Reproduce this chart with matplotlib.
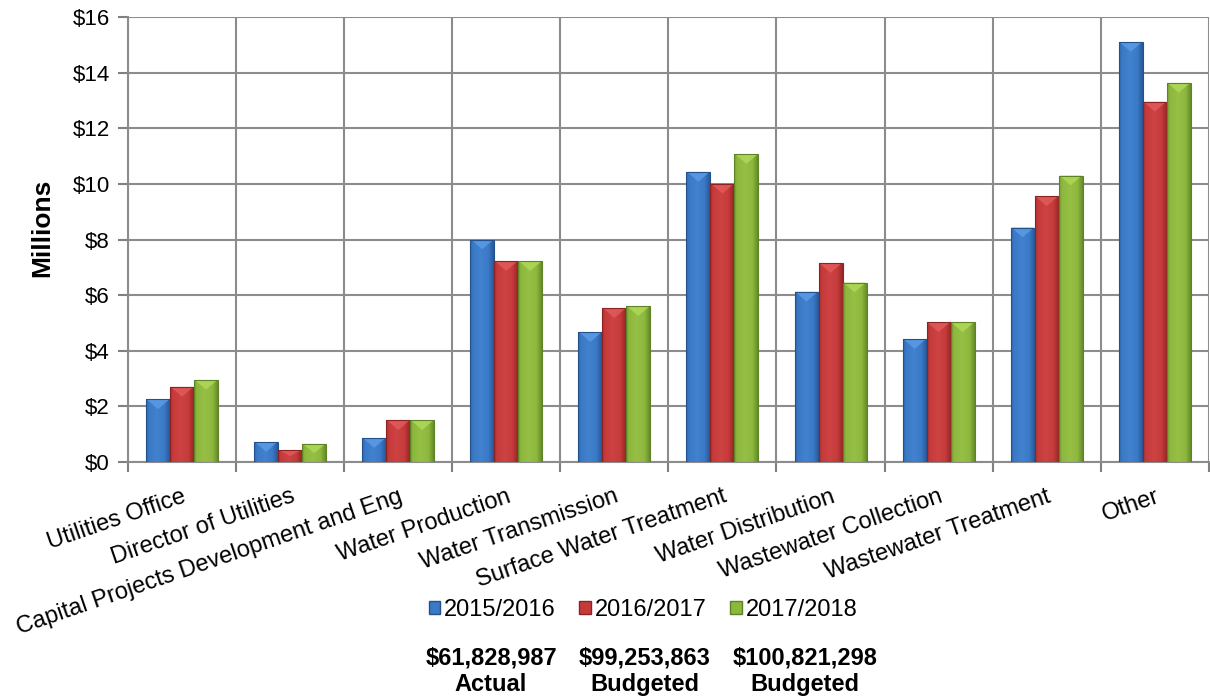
import matplotlib
matplotlib.use("Agg")
import matplotlib.pyplot as plt
import numpy as np
from matplotlib.patches import Patch, Polygon
from matplotlib.colors import to_rgb

plt.rcParams['font.family'] = ['Liberation Sans', 'DejaVu Sans']

categories = ["Utilities Office", "Director of Utilities", "Capital Projects Development and Eng",
              "Water Production", "Water Transmission", "Surface Water Treatment",
              "Water Distribution", "Wastewater Collection", "Wastewater Treatment", "Other"]
series_names = ["2015/2016", "2016/2017", "2017/2018"]
v2015 = [2.25, 0.72, 0.86, 8.0, 4.67, 10.43, 6.12, 4.42, 8.43, 15.1]
v2016 = [2.70, 0.43, 1.50, 7.22, 5.53, 10.0, 7.15, 5.02, 9.55, 12.95]
v2017 = [2.95, 0.65, 1.50, 7.22, 5.60, 11.07, 6.45, 5.02, 10.3, 13.63]
yticks = [0, 2, 4, 6, 8, 10, 12, 14, 16]
totals = ["$61,828,987\nActual", "$99,253,863\nBudgeted", "$100,821,298\nBudgeted"]

colors = ["#3A79C6", "#C63A3A", "#8DB83E"]
lights = ["#5A9BE6", "#E25A5A", "#B0D858"]
darks = ["#24518C", "#8A2424", "#5E8226"]

fig = plt.figure(figsize=(12.1, 6.98), dpi=100)
ax = fig.add_axes([128/1210, 1-462/698, 1-128/1210-0.001, (462-17)/698])

x = np.arange(len(categories))
w = 0.222

def mix(c1, c2, t):
    a = np.array(to_rgb(c1)); b = np.array(to_rgb(c2))
    return a*(1-t) + b*t

prof = np.linspace(0, 1, 40)
for i, vals in enumerate([v2015, v2016, v2017]):
    bars = ax.bar(x + (i-1)*w, vals, width=w, color=colors[i], edgecolor='none',
                  zorder=3, label=series_names[i])
    grad = np.zeros((1, len(prof), 3))
    for k, p in enumerate(prof):
        d = abs(p - 0.45) / 0.55
        if d < 0.6:
            c = mix(colors[i], lights[i], 0.25*(1 - d/0.6))
        else:
            c = mix(colors[i], darks[i], min(1, (d-0.6)/0.4)*0.8)
        grad[0, k] = c
    for b in bars:
        x0, y0 = b.get_x(), b.get_y()
        bw, bh = b.get_width(), b.get_height()
        im = ax.imshow(grad, extent=(x0, x0+bw, y0, y0+bh), aspect='auto',
                       interpolation='bilinear', zorder=3.1)
        im.set_clip_path(b)
        th = min(0.35, bh*0.5)
        tri = Polygon([[x0+0.03*bw, y0+bh], [x0+0.97*bw, y0+bh], [x0+bw/2, y0+bh-th]],
                      closed=True, facecolor=lights[i], edgecolor='none', alpha=0.85, zorder=3.2)
        ax.add_patch(tri)
        ax.bar(x0+bw/2, bh, width=bw, bottom=y0, facecolor='none', edgecolor=darks[i],
               linewidth=0.8, zorder=3.3)

ax.set_xlim(-0.5, len(categories)-0.5)
ax.set_ylim(0, 16)
ax.set_yticks(yticks)
ax.set_yticklabels([f"${t}" for t in yticks], fontsize=16)
ax.set_xticks(np.arange(len(categories)+1)-0.5, minor=False)
ax.set_xticklabels([])
ax.set_xticks(x, minor=True)
ax.set_xticklabels(categories, minor=True, rotation=19, ha='right', rotation_mode='anchor', fontsize=17)
ax.tick_params(axis='x', which='minor', length=0, pad=17)
ax.tick_params(axis='x', which='major', length=7, color='#808080', width=1.5)
ax.tick_params(axis='y', length=7, color='#808080', width=1.5, pad=6)
ax.grid(True, which='major', color='#8C8C8C', linewidth=1.5, zorder=0)
for s in ax.spines.values():
    s.set_visible(False)
for side in ('left', 'bottom'):
    ax.spines[side].set_visible(True)
    ax.spines[side].set_color('#8C8C8C')
    ax.spines[side].set_linewidth(1.5)
ax.set_ylabel("Millions", fontsize=19, fontweight='bold')
ax.yaxis.set_label_coords((54-128)/1082, (462-228)/445)

handles = [Patch(facecolor=colors[i], edgecolor=darks[i], label=series_names[i]) for i in range(3)]
fig.legend(handles=handles, loc='center', bbox_to_anchor=(643/1210, 1-610/698), ncol=3,
           frameon=False, fontsize=17, handlelength=0.5, handleheight=0.5, handletextpad=0.15,
           columnspacing=1.0)

for i, t in enumerate(totals):
    fig.text([491, 645, 805][i]/1210, 1-671/698, t, ha='center', va='center',
             fontsize=17, fontweight='bold', linespacing=1.2)

fig.savefig("out.png", dpi=100)
